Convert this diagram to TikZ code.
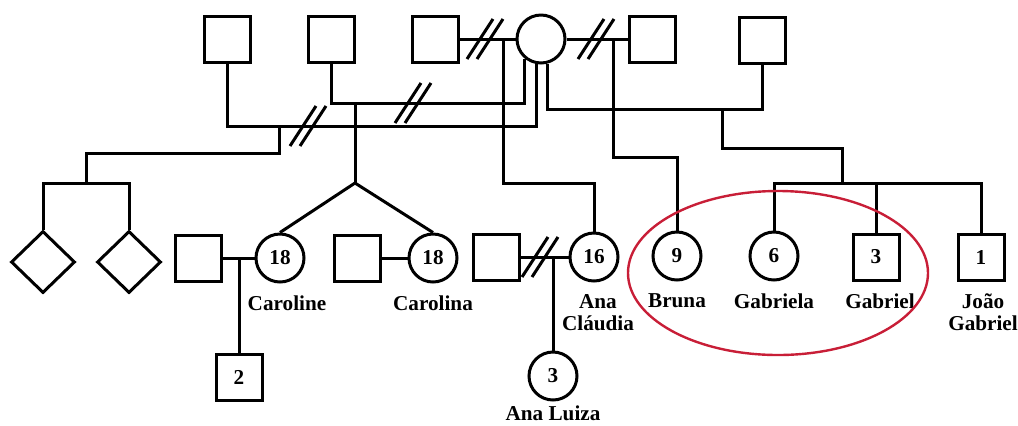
\documentclass[tikz,border=0pt]{standalone}
\usepackage{fontspec}
\setmainfont{Liberation Serif}
\usetikzlibrary{positioning, shapes.geometric}
\definecolor{ringred}{RGB}{200,30,55}
\newcommand{\pedfont}{\fontsize{10.6}{11}\selectfont\bfseries}
\newcommand{\divmark}[1]{\draw[link, shift={(#1)}] (-18,20) -- (8,-20) (-8,20) -- (18,-20);}

\begin{document}
\begin{tikzpicture}[
    x=0.5pt, y=-0.5pt,
    link/.style={line width=1.5pt},
    male/.style={draw, line width=1.5pt, minimum size=23pt, inner sep=0pt, font=\pedfont},
    female/.style={draw, circle, line width=1.5pt, minimum size=24pt, inner sep=0pt, font=\pedfont},
    unknown/.style={draw, diamond, line width=1.5pt, minimum width=32pt, minimum height=31pt, inner sep=0pt},
    pname/.style={align=center, inner sep=1pt, font=\pedfont},
    ring/.style={draw=ringred, line width=1.2pt}
]
    \useasboundingbox (0,0) rectangle (1018,425);

    % NODES
    \node[male] (f1) at (227,39) {};
    \node[male] (f2) at (331,39) {};
    \node[male] (f3) at (435,39) {};
    \node[female] (mom) at (541,39) {};
    \node[male] (f4) at (652,39) {};
    \node[male] (f5) at (762,40) {};

    \node[unknown] (dzA) at (43,262) {};
    \node[unknown] (dzB) at (129,262) {};
    \node[female] (caroline) at (280,258) {18};
    \node[male, left=16pt of caroline] (p1) {};
    \node[female] (carolina) at (433,258) {18};
    \node[male, left=13pt of carolina] (p2) {};
    \node[female] (anaC) at (594,257) {16};
    \node[male, left=24pt of anaC] (p3) {};
    \node[female] (bruna) at (677,256) {9};
    \node[female] (gabriela) at (774,256) {6};
    \node[male] (gabriel) at (876,257) {3};
    \node[male] (joao) at (981,257) {1};

    \node[male] (son) at (239,377) {2};
    \node[female] (anaL) at (553,376) {3};

    \node[pname, below=5pt of caroline, xshift=3.5pt] (nCaroline) {Caroline};
    \node[pname, below=5pt of carolina] (nCarolina) {Carolina};
    \node[pname, below=5pt of anaC, xshift=2pt] (nAnaC) {Ana\\Cláudia};
    \node[pname, below=1pt of anaL] (nAnaL) {Ana Luiza};
    \node[pname, below=5pt of bruna] (nBruna) {Bruna};
    \node[pname, below=5pt of gabriela] (nGabriela) {Gabriela};
    \node[pname, below=5pt of gabriel, xshift=2pt] (nGabriel) {Gabriel};
    \node[pname, below=5pt of joao, xshift=1pt] (nJoao) {João\\Gabriel};

    % JUNCTIONS
    \coordinate (u1) at (279,126);
    \coordinate (u2) at (355,103);
    \coordinate (u3) at (503,39);
    \coordinate (u4) at (613,39);
    \coordinate (u5) at (722,109);
    \coordinate (u6) at (239,258);
    \coordinate (u7) at (553,257);
    \coordinate (twin) at (355,183);
    \coordinate (dzT) at (86,183);
    \coordinate (sibT) at (842,183);

    \coordinate (d1) at (485,39);
    \coordinate (d2) at (596,39);
    \coordinate (d3) at (413,103);
    \coordinate (d4) at (308,126);
    \coordinate (d5) at (540,257);

    % EDGES
    \draw[link] (f3) -- (mom);
    \draw[link] (mom) -- (f4);
    \draw[link] (f2.south) |- (u2) -| (mom.-130);
    \draw[link] (f1.south) |- (u1) -| (mom.-100);
    \draw[link] (f5.south) |- (u5) -| (mom.-75);

    \draw[link] (u2) -- (twin);
    \draw[link] (caroline.north) -- (twin) -- (carolina.north);
    \draw[link] (u1) -- ++(0,27) -| (dzT);
    \draw[link] (dzA.north) |- (dzT) -| (dzB.north);
    \draw[link] (u3) -- ++(0,144) -| (anaC.north);
    \draw[link] (u4) -- ++(0,118) -| (bruna.north);
    \draw[link] (u5) -- ++(0,39) -| (sibT);
    \draw[link] (gabriela.north) |- (sibT) -| (joao.north);
    \draw[link] (gabriel.north) -- (gabriel.north |- sibT);

    \draw[link] (p1) -- (caroline);
    \draw[link] (p2) -- (carolina);
    \draw[link] (p3) -- (anaC);
    \draw[link] (u6) -- (son);
    \draw[link] (u7) -- (anaL);

    \divmark{d1}
    \divmark{d2}
    \divmark{d3}
    \divmark{d4}
    \divmark{d5}

    \draw[ring] (778,273) ellipse [x radius=150, y radius=82];
\end{tikzpicture}
\end{document}
